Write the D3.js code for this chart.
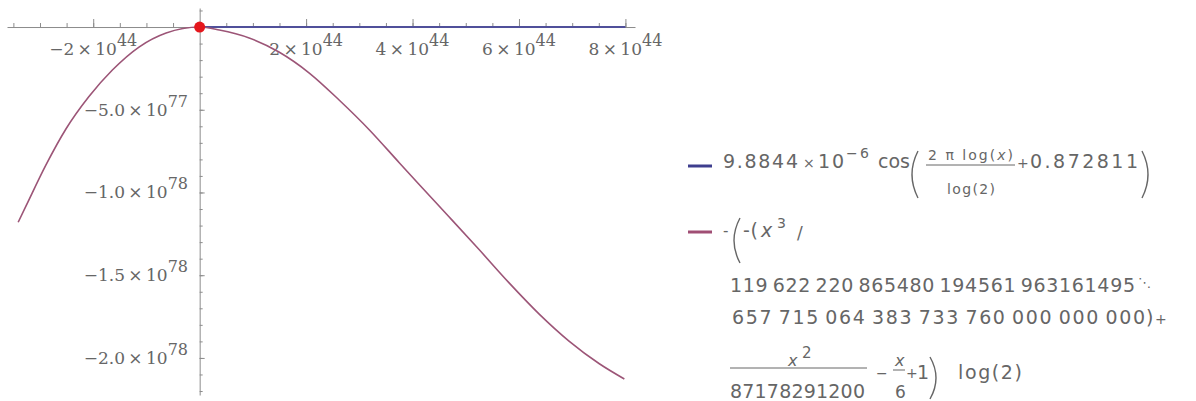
<!DOCTYPE html>
<html>
<head>
<meta charset="utf-8">
<script src="https://cdn.jsdelivr.net/npm/d3@7"></script>
<style>
body { margin: 0; background: #fff; }
</style>
</head>
<body>
<div id="container"></div>
<script>
// curve: x in units of 1e44, y in units of 1e77
var curveX = [-3.41, -3.26, -2.89, -2.51, -2.08, -1.64, -1.14, -0.63, 0, 0.37, 0.93, 1.49, 2.06, 2.62, 3.19, 3.75, 4.12, 4.68, 5.25, 5.81, 6.38, 6.94, 7.51, 7.98];
var curveY = [-11.8, -10.8, -8.35, -6.15, -4.2, -2.6, -1.21, -0.36, 0, -0.18, -0.66, -1.51, -2.78, -4.41, -6.22, -8.2, -9.5, -11.45, -13.45, -15.45, -17.35, -18.98, -20.35, -21.27];
// fitted cosine term is ~1e-5, so it is flat zero at this scale
var fitX = [0, 2, 4, 6, 8];
var fitY = [0, 0, 0, 0, 0];
var pointX = [0];
var pointY = [0];

var xTickValues = [-2, 2, 4, 6, 8];
var xTickMant = ["\u22122", "2", "4", "6", "8"];
var xTickExp = ["44", "44", "44", "44", "44"];
var yTickValues = [-5, -10, -15, -20];
var yTickMant = ["\u22125.0", "\u22121.0", "\u22121.5", "\u22122.0"];
var yTickExp = ["77", "78", "78", "78"];

(function()
{
	var W = 1196, H = 401;
	var axisColor = "#8c8c8c";
	var ink = "#666";

	var svg = d3.select("#container").append("svg")
		.attr("width", W)
		.attr("height", H);

	var x = d3.scaleLinear().domain([-3.62, 8.18]).range([7, 635]);
	var y = d3.scaleLinear().domain([1.15, -22.24]).range([8, 395]);

	// x axis: minor ticks every 0.5e44, major ones taller, ticks point up
	svg.append("g")
		.attr("transform", "translate(0," + y(0) + ")")
		.call(d3.axisTop(x).tickValues(d3.range(-3.5, 8.01, 0.5)).tickSize(4).tickSizeOuter(0).tickFormat(""));
	var xMajor = svg.append("g")
		.attr("transform", "translate(0," + y(0) + ")")
		.call(d3.axisTop(x).tickValues(xTickValues).tickSize(8).tickSizeOuter(0).tickFormat(""));
	xMajor.select(".domain").remove();

	// y axis: minor every 1e77, ticks point right
	svg.append("g")
		.attr("transform", "translate(" + x(0) + ",0)")
		.call(d3.axisRight(y).tickValues(d3.range(1, -22.5, -1)).tickSize(3).tickSizeOuter(0).tickFormat(""));
	var yMajor = svg.append("g")
		.attr("transform", "translate(" + x(0) + ",0)")
		.call(d3.axisRight(y).tickValues(yTickValues).tickSize(5).tickSizeOuter(0).tickFormat(""));
	yMajor.select(".domain").remove();

	svg.selectAll(".domain, .tick line").attr("stroke", axisColor).attr("stroke-width", 1);

	// tick labels, mantissa x 10 with raised exponent
	var serif = "'DejaVu Serif', serif";
	xTickValues.forEach(function(v, i)
	{
		var t = svg.append("text")
			.attr("x", x(v))
			.attr("y", 55)
			.attr("text-anchor", "middle")
			.attr("font-family", serif)
			.attr("font-size", "17px")
			.attr("fill", ink);
		t.append("tspan").text(xTickMant[i] + "\u2009\u00d7\u200910");
		t.append("tspan").attr("dy", -9).attr("font-size", "16px").text(xTickExp[i]);
	});
	yTickValues.forEach(function(v, i)
	{
		var t = svg.append("text")
			.attr("x", 188)
			.attr("y", y(v) + 6)
			.attr("text-anchor", "end")
			.attr("font-family", serif)
			.attr("font-size", "17px")
			.attr("fill", ink);
		t.append("tspan").text(yTickMant[i] + "\u2009\u00d7\u200910");
		t.append("tspan").attr("dy", -9).attr("font-size", "16px").text(yTickExp[i]);
	});

	// series
	var line = d3.line()
		.x(function(d) { return x(d[0]); })
		.y(function(d) { return y(d[1]); });

	svg.append("path")
		.datum(d3.zip(fitX, fitY))
		.attr("d", line)
		.attr("fill", "none")
		.attr("stroke", "#50509a")
		.attr("stroke-width", 2);

	svg.append("path")
		.datum(d3.zip(curveX, curveY))
		.attr("d", line.curve(d3.curveMonotoneX))
		.attr("fill", "none")
		.attr("stroke", "#9c5577")
		.attr("stroke-width", 1.6);

	svg.selectAll(".pt")
		.data(d3.zip(pointX, pointY))
		.enter().append("circle")
		.attr("class", "pt")
		.attr("cx", function(d) { return x(d[0]); })
		.attr("cy", function(d) { return y(d[1]); })
		.attr("r", 5.5)
		.attr("fill", "#e5161c");

	// legend
	var leg = svg.append("g")
		.attr("font-family", "'DejaVu Sans', sans-serif")
		.attr("fill", ink);

	function put(px, py, s, size, len, italic)
	{
		var t = leg.append("text")
			.attr("x", px)
			.attr("y", py)
			.attr("font-size", size + "px")
			.text(s);
		if (len) t.attr("textLength", len).attr("lengthAdjust", "spacing");
		if (italic) t.attr("font-style", "italic");
		return t;
	}
	function bar(x1, x2, py)
	{
		leg.append("line")
			.attr("x1", x1).attr("x2", x2)
			.attr("y1", py).attr("y2", py)
			.attr("stroke", ink).attr("stroke-width", 1);
	}
	function paren(px, y1, y2, open)
	{
		var w = 6, mid = (y1 + y2) / 2;
		var d = open
			? "M" + (px + w) + "," + y1 + " Q" + (px - w) + "," + mid + " " + (px + w) + "," + y2
			: "M" + px + "," + y1 + " Q" + (px + 2 * w) + "," + mid + " " + px + "," + y2;
		leg.append("path")
			.attr("d", d)
			.attr("fill", "none")
			.attr("stroke", ink)
			.attr("stroke-width", 1.4);
	}

	// swatches
	leg.append("line").attr("x1", 688).attr("x2", 712).attr("y1", 166).attr("y2", 166)
		.attr("stroke", "#3e3e8e").attr("stroke-width", 3);
	leg.append("line").attr("x1", 688).attr("x2", 712).attr("y1", 232).attr("y2", 232)
		.attr("stroke", "#a04e74").attr("stroke-width", 3);

	// first entry: 9.8844 x 10^-6 cos(2 pi log(x)/log(2) + 0.872811)
	put(723, 168, "9.8844", 19, 75);
	put(803, 168, "\u00d7", 14);
	put(818, 168, "10", 19, 26);
	put(846, 158, "\u22126", 14, 23);
	put(878, 168, "cos", 19);
	paren(912, 151, 198, true);
	var num = leg.append("text").attr("x", 928).attr("y", 160).attr("font-size", "14px")
		.attr("textLength", 85).attr("lengthAdjust", "spacing");
	num.append("tspan").text("2 \u03c0 log(");
	num.append("tspan").attr("font-style", "italic").text("x");
	num.append("tspan").text(")");
	bar(926, 1015, 165);
	put(947, 194, "log(2)", 14, 48);
	put(1017, 168, "+", 14);
	put(1030, 168, "0.872811", 19, 108);
	paren(1142, 151, 198, false);

	// second entry, spread over four lines
	put(723, 236, "-", 15);
	paren(734, 218, 263, true);
	put(743, 237, "-(", 19, 15);
	put(761, 237, "x", 19, null, true);
	put(777, 228, "3", 14);
	put(797, 239, "/", 17);
	put(730, 292, "119\u2009622\u2009220\u2009865480\u2009194561\u2009963161495", 19, 405);
	put(1138, 287, "\u22f1", 13);
	put(732, 324, "657\u2009715\u2009064\u2009383\u2009733\u2009760\u2009000\u2009000\u2009000", 19, 413);
	put(1146, 324, ")", 19);
	put(1155, 324, "+", 14);

	put(788, 366, "x", 16, null, true);
	put(802, 358, "2", 15);
	bar(730, 867, 368);
	put(730, 398, "87178291200", 19, 135);
	put(876, 378, "\u2212", 14);
	put(895, 366, "x", 16, null, true);
	bar(893, 905, 370);
	put(895, 398, "6", 17);
	put(906, 378, "+", 14);
	put(917, 379, "1", 19);
	paren(930, 357, 399, false);
	put(958, 379, "log(2)", 19, 64);
})();
</script>
</body>
</html>
